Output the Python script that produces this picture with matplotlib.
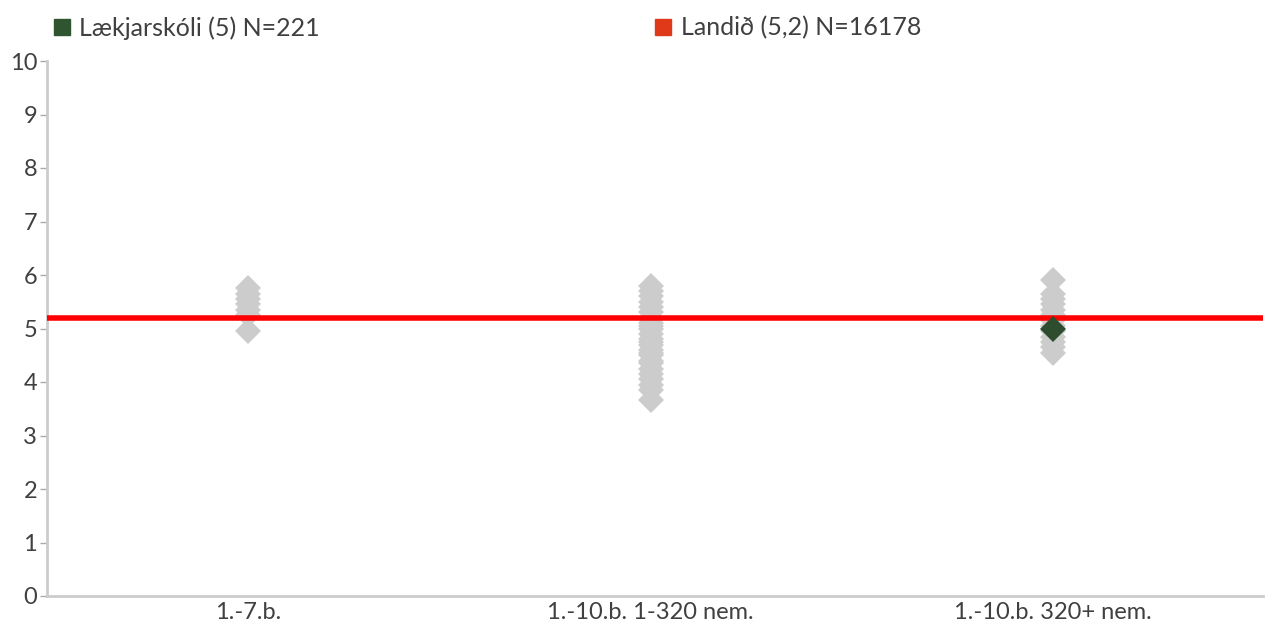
import numpy as np
import matplotlib.pyplot as plt
from matplotlib.lines import Line2D

plt.rcParams['font.family'] = ['Lato', 'DejaVu Sans']

categories = ['1.-7.b.', '1.-10.b. 1-320 nem.', '1.-10.b. 320+ nem.']
# other schools in each group (grey diamonds)
schools = [
    [4.95, 5.25, 5.35, 5.45, 5.55, 5.65, 5.75],
    [3.66, 3.85, 3.95, 4.05, 4.15, 4.25, 4.35, 4.4, 4.5, 4.55, 4.6, 4.7,
     4.75, 4.8, 4.9, 5.0, 5.05, 5.1, 5.2, 5.3, 5.4, 5.5, 5.6, 5.7, 5.8],
    [4.55, 4.65, 4.75, 4.85, 4.95, 5.05, 5.15, 5.25, 5.35, 5.45, 5.55, 5.65, 5.9],
]
school_group = 2
school_value = 5.0
national = 5.2
label_school = 'Lækjarskóli (5) N=221'
label_land = 'Landið (5,2) N=16178'

txt = '#404040'
fig = plt.figure(figsize=(12.69, 6.25), dpi=100)
ax = fig.add_axes([0.037, 0.0464, 0.958, 0.856])

for i, vals in enumerate(schools):
    ax.plot([i] * len(vals), vals, 'D', color='#cccccc', ms=13, mew=0, zorder=2)
ax.axhline(national, color='#ff0000', lw=4, zorder=3)
ax.plot([school_group], [school_value], 'D', color='#2e4d2e', ms=13, mew=0, zorder=4)

ax.set_xlim(-0.5, 2.52)
ax.set_ylim(0, 10)
ax.set_yticks(range(0, 11))
ax.set_xticks(range(len(categories)))
ax.set_xticklabels(categories)
ax.tick_params(axis='y', length=5, width=1, color='#aaaaaa', labelsize=17, labelcolor=txt, pad=2)
ax.tick_params(axis='x', length=0, labelsize=17, labelcolor=txt, pad=4)
for s in ['top', 'right']:
    ax.spines[s].set_visible(False)
for s in ['left', 'bottom']:
    ax.spines[s].set_color('#cccccc')
    ax.spines[s].set_linewidth(2)

h1 = [Line2D([], [], marker='s', ls='', color='#2e5530', ms=12)]
h2 = [Line2D([], [], marker='s', ls='', color='#e0391a', ms=12)]
leg1 = fig.legend(h1, [label_school], loc='center left', bbox_to_anchor=(0.029, 0.955),
                  frameon=False, fontsize=18, handletextpad=0.2, borderpad=0, handlelength=1)
for t in leg1.get_texts():
    t.set_color(txt)
leg2 = fig.legend(h2, [label_land], loc='center left', bbox_to_anchor=(0.503, 0.955),
                  frameon=False, fontsize=18, handletextpad=0.2, borderpad=0, handlelength=1)
for t in leg2.get_texts():
    t.set_color(txt)

fig.savefig('out.png', dpi=100)
